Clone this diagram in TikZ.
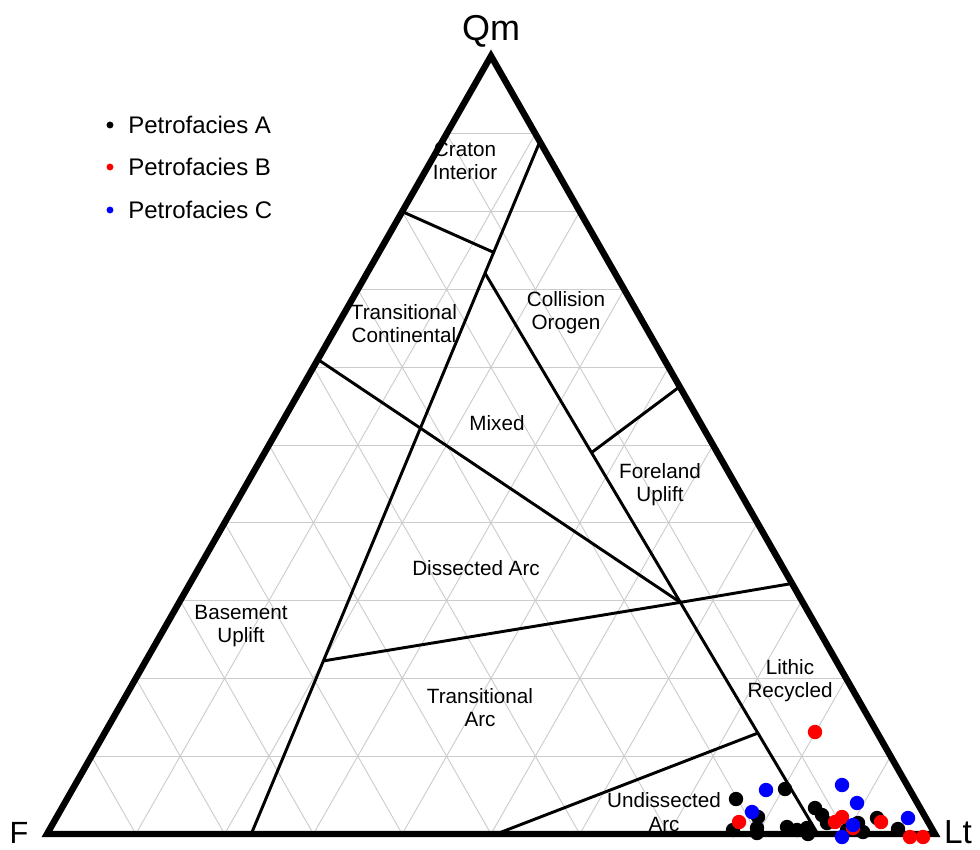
\documentclass[tikz,border=0pt]{standalone}
\usepackage{fontspec}
\setmainfont{Liberation Sans}
\usetikzlibrary{calc}
\begin{document}
\begin{tikzpicture}[x=0.75pt,y=-0.75pt]
        \tikzset{
            gridline/.style={draw=black!20,line width=0.7pt},
            fieldline/.style={line width=2.2pt},
            frame/.style={line width=4.8pt,line join=miter},
            field/.style={align=center,inner sep=0pt,font=\fontsize{15.5}{17.4}\selectfont},
            corner/.style={inner sep=0pt,font=\fontsize{23}{27}\selectfont},
            keydot/.style={circle,inner sep=0pt,minimum size=5.2pt},
            keytext/.style={anchor=west,inner sep=0pt,font=\fontsize{18}{21}\selectfont},
            sample/.style={circle,inner sep=0pt,minimum size=10.8pt}
        }
        \useasboundingbox (0,0) rectangle (980,849);

        \coordinate (F) at (47,834);
        \coordinate (Lt) at (935,834);
        \coordinate (Qm) at (491,56);

        % 10 % grid
        \foreach \i [evaluate=\i as \a using \i/10, evaluate=\i as \b using 1-\i/10] in {1,...,9}{
                \draw[gridline] (barycentric cs:Qm=\a,F=\b,Lt=0) -- (barycentric cs:Qm=\a,F=0,Lt=\b);
                \draw[gridline] (barycentric cs:Qm=0,F=\b,Lt=\a) -- (barycentric cs:Qm=\b,F=0,Lt=\a);
                \draw[gridline] (barycentric cs:Qm=0,F=\a,Lt=\b) -- (barycentric cs:Qm=\b,F=\a,Lt=0);
            }

        % field boundaries
        \coordinate (S) at (barycentric cs:Qm=0,F=0.77,Lt=0.23);
        \coordinate (T) at (barycentric cs:Qm=0.89,F=0,Lt=0.11);
        \coordinate (A) at (barycentric cs:Qm=0.8,F=0.2,Lt=0);
        \coordinate (B) at ($(S)!0.84!(T)$);
        \coordinate (R0) at (barycentric cs:Qm=0,F=0.132,Lt=0.868);
        \coordinate (RT) at ($(S)!0.81!(T)$);
        \coordinate (P) at ($(R0)!0.413!(RT)$);
        \coordinate (M) at (barycentric cs:Qm=0.61,F=0.39,Lt=0);
        \coordinate (D1) at ($(S)!0.25!(T)$);
        \coordinate (D2) at (barycentric cs:Qm=0.322,F=0,Lt=0.678);
        \coordinate (U1) at (barycentric cs:Qm=0,F=0.494,Lt=0.506);
        \coordinate (U2) at ($(R0)!0.18!(RT)$);
        \coordinate (FL1) at ($(R0)!0.68!(RT)$);
        \coordinate (FL2) at (barycentric cs:Qm=0.575,F=0,Lt=0.425);

        \draw[fieldline] (S) -- (T);
        \draw[fieldline] (A) -- (B);
        \draw[fieldline] (RT) -- (R0);
        \draw[fieldline] (M) -- (P);
        \draw[fieldline] (D1) -- (P) -- (D2);
        \draw[fieldline] (U1) -- (U2);
        \draw[fieldline] (FL1) -- (FL2);

        \draw[frame] (F) -- (Lt) -- (Qm) -- cycle;

        \node[corner,font=\fontsize{27}{32}\selectfont] (qmlab) at (491,31) {Qm};
        \node[corner] (flab) at (19,833) {F};
        \node[corner,font=\fontsize{25}{30}\selectfont] (ltlab) at (958,832) {Lt};

        \node[field] (craton) at (465,161) {Craton\\Interior};
        \node[field] (transcont) at (404,324) {Transitional\\Continental};
        \node[field] (collision) at (566,313) {Collision\\Orogen};
        \node[field] (mixed) at (497,423) {Mixed};
        \node[field] (foreland) at (660,485) {Foreland\\Uplift};
        \node[field] (dissected) at (476,568) {Dissected Arc};
        \node[field] (basement) at (241,626) {Basement\\Uplift};
        \node[field] (transarc) at (480,708) {Transitional\\Arc};
        \node[field] (lithic) at (790,681) {Lithic\\Recycled};
        \node[field] (undissected) at (664,812) {Undissected\\Arc};

        % legend
        \foreach \c/\l/\y in {black/A/125,red/B/167,blue/C/210}{
                \node[keydot,fill=\c] (key\l) at (110,\y) {};
                \node[keytext] (keytext\l) at (128,\y) {Petrofacies \l};
            }

        % Petrofacies A
        \foreach \x/\y [count=\n] in {736/799,785/789,758/817,733/830,757/828,757/833,787/827,797/830,807/828,808/834,
                815/808,822/815,827/823,847/830,858/823,863/832,877/818,898/829}{
                \node[sample,fill=black] (a\n) at (\x,\y) {};
            }
        % Petrofacies B
        \foreach \x/\y [count=\n] in {815/732,739/822,835/822,842/817,853/828,881/822,910/837,923/837}{
                \node[sample,fill=red] (b\n) at (\x,\y) {};
            }
        % Petrofacies C
        \foreach \x/\y [count=\n] in {766/790,752/812,842/785,857/803,853/825,842/837,908/818}{
                \node[sample,fill=blue] (c\n) at (\x,\y) {};
            }

    \end{tikzpicture}
\end{document}
